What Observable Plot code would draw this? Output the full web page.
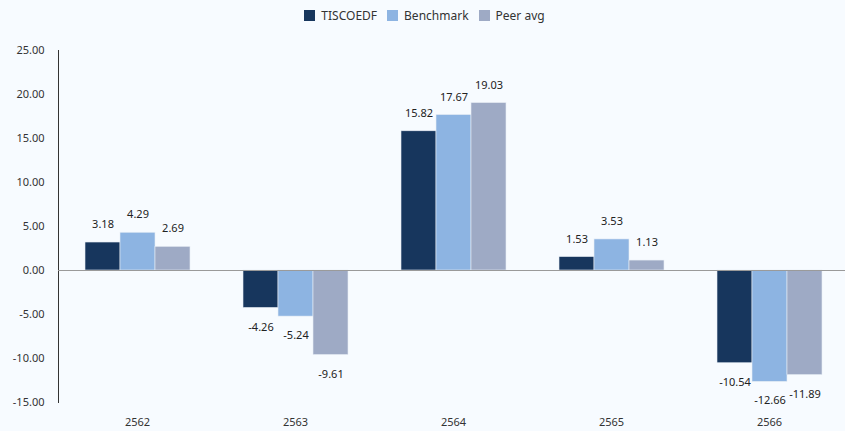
<!DOCTYPE html>
<html>
<head>
<meta charset="utf-8">
<script src="https://cdn.jsdelivr.net/npm/d3@7"></script>
<script src="https://cdn.jsdelivr.net/npm/@observablehq/plot@0.6"></script>
<style>
  html, body { margin: 0; padding: 0; background: #f7fbff; }
  body { width: 845px; height: 431px; overflow: hidden; font-family: "Noto Sans", sans-serif; }
  #legend { height: 30px; display: flex; justify-content: center; align-items: center; gap: 10px; font-size: 12px; color: #333; padding-left: 4px; box-sizing: border-box; }
  #legend span.item { display: inline-flex; align-items: center; gap: 6px; }
  #legend i { display: inline-block; width: 11px; height: 11px; }
</style>
</head>
<body>
<div id="legend"></div>
<div id="chart"></div>
<script>
const years = ["2562", "2563", "2564", "2565", "2566"];
const seriesNames = ["TISCOEDF", "Benchmark", "Peer avg"];
const tiscoedf = [3.18, -4.26, 15.82, 1.53, -10.54];
const benchmark = [4.29, -5.24, 17.67, 3.53, -12.66];
const peerAvg = [2.69, -9.61, 19.03, 1.13, -11.89];
const colors = ["#17365d", "#8db4e2", "#9eaac5"];
const yTicks = [-15, -10, -5, 0, 5, 10, 15, 20, 25];

const valuesBySeries = [tiscoedf, benchmark, peerAvg];
const data = [];
years.forEach((yr, i) => {
  seriesNames.forEach((s, j) => {
    data.push({year: yr, series: s, value: valuesBySeries[j][i]});
  });
});

const legend = document.getElementById("legend");
seriesNames.forEach((s, j) => {
  const el = document.createElement("span");
  el.className = "item";
  el.innerHTML = `<i style="background:${colors[j]}"></i>${s}`;
  legend.appendChild(el);
});

const chart = Plot.plot({
  width: 845,
  height: 401,
  marginLeft: 57,
  marginRight: -4,
  marginTop: 20,
  marginBottom: 29,
  style: {background: "#f7fbff", fontFamily: "'Noto Sans', sans-serif", fontSize: "11px", color: "#333"},
  fx: {domain: years, padding: 0, label: null, tickSize: 0, tickPadding: 16},
  x: {domain: seriesNames, paddingInner: 0, paddingOuter: 0.73, axis: null},
  y: {domain: [-15, 25], ticks: yTicks, tickFormat: d => d.toFixed(2), tickSize: 0, tickPadding: 14, label: null, line: true},
  color: {domain: seriesNames, range: colors},
  marks: [
    Plot.barY(data, {fx: "year", x: "series", y: "value", fill: "series", stroke: "#e8eef6", strokeWidth: 0.6}),
    Plot.ruleY([0], {stroke: "#9a9a9a", strokeWidth: 1}),
    Plot.text(data.filter(d => d.value >= 0), {fx: "year", x: "series", y: "value", text: d => d.value.toFixed(2), dy: -18, fill: "#222", fontSize: 11}),
    Plot.text(data.filter(d => d.value < 0), {fx: "year", x: "series", y: "value", text: d => d.value.toFixed(2), dy: 19, fill: "#222", fontSize: 11})
  ]
});
document.getElementById("chart").appendChild(chart);
</script>
</body>
</html>
